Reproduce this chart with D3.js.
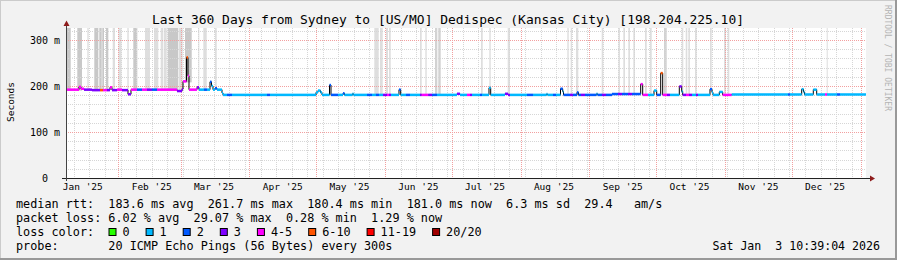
<!DOCTYPE html>
<html>
<head>
<meta charset="utf-8">
<script src="https://cdn.jsdelivr.net/npm/d3@7"></script>
<style>
body { margin: 0; background: #f2f2f2; }
svg { display: block; }
text { font-family: "DejaVu Sans Mono", monospace; white-space: pre; }
</style>
</head>
<body>
<svg id="chart" width="897" height="260"></svg>
<script>
// time window of the graph (UTC)
const startTime = "2025-01-08T10:39:04Z";
const endTime = "2026-01-03T10:39:04Z";
const dayZero = Date.UTC(2025, 0, 1);

// median rtt samples: [days since 2025-01-01, ms, loss class]
const median = [
  [7.45,192,4],[13.29,198,4],[14.19,194,4],[15.54,192,3],[19.14,191,3],[22.74,191,5],
  [24.09,191,4],[25.89,191,3],[27.24,197,4],[28.14,191,3],[30.39,192,4],[32.64,191,3],
  [35.34,182,3],[36.69,192,4],[39.39,192,2],[41.64,192,4],[43.89,192,3],[46.14,192,2],
  [48.39,192,4],[57.39,189,3],[59.64,193,3],[60.09,210,4],[61.67,262,5],[62.34,222,4],
  [62.79,192,4],[66.39,197,3],[67.29,192,1],[69.54,192,2],[70.89,192,1],[72.24,209,2],
  [72.92,200,1],[73.59,192,1],[74.49,195,2],[75.39,192,1],[77.64,185,1],[78.09,180.6,1],
  [79.89,180.6,2],[82.14,180.6,1],[97.89,180.6,2],[99.24,180.6,1],[119.94,186,1],[120.84,190,1],
  [121.97,186,1],[122.64,180.6,1],[126.02,202,2],[126.69,180.6,2],[129.84,180.6,1],[132.09,184,2],
  [132.77,180.6,1],[136.37,183,1],[136.82,180.6,1],[142.89,180.6,2],[145.14,180.6,1],[146.94,180.6,2],
  [148.29,180.6,1],[150.09,180.6,3],[151.89,180.6,4],[152.79,180.6,3],[153.69,180.6,1],[157.29,192,2],
  [158.06,180.6,1],[160.44,180.6,2],[162.24,180.6,1],[166.74,180.6,3],[167.51,180.6,4],[170.48,180.6,3],
  [172.14,180.6,2],[174.39,180.6,1],[183.39,183,3],[184.74,180.6,1],[187.89,180.6,4],[189.24,180.6,3],
  [190.14,180.6,1],[193.74,180.6,2],[194.64,180.6,1],[197.79,196,1],[198.56,180.6,1],[204.99,183,3],
  [206.34,180.6,3],[207.24,180.6,1],[214.89,180.6,2],[217.59,180.6,1],[223.67,182.5,1],[224.12,180.6,1],
  [226.59,180.6,2],[227.94,180.6,1],[229.97,194,2],[230.96,188,1],[231.32,180.6,2],[234.24,180.6,3],
  [235.59,180.6,2],[237.39,186,2],[238.07,180.6,2],[239.19,180.6,3],[240.99,180.6,2],[246.17,183,1],
  [246.62,180.6,2],[248.64,180.6,3],[250.44,180.6,2],[253.14,182.5,2],[255.84,182.5,3],[257.64,182.5,2],
  [260.34,182.5,3],[262.14,182.5,2],[266.06,204,4],[266.96,180.6,4],[269.34,180.6,1],[272.04,190,1],
  [273.26,180.6,2],[275.06,228,5],[275.96,180.6,4],[277.89,180.6,3],[279.24,180.6,1],[283.43,199,3],
  [284.51,188,1],[284.96,180.6,3],[286.44,180.6,4],[287.79,180.6,3],[289.14,180.6,1],[290.94,180.6,3],
  [291.84,180.6,1],[297.24,193,2],[298.14,186,1],[298.59,180.6,1],[301.43,187,1],[302.96,180.6,4],
  [307.01,181.5,1],[332.34,181.5,2],[333.24,181.5,1],[338.51,193,1],[339.32,187,1],[339.77,181.5,1],
  [343.73,192,1],[345.26,181.5,1],[348.99,181.5,4],[349.89,181.5,1],[354.39,181.5,2],[355.74,181.5,1],
  [367.44,181.5,1]
];

// smoke bars: [from day, to day, shade 0 light .. 2 dark]
const smoke = [
  [7.76,9.56,2],[12.53,14.64,2],[17.03,17.66,0],[20.18,21.98,2],[22.43,23.51,2],[23.78,24.54,2],
  [25.44,26.48,2],[28.46,29.49,0],[31.07,32.42,0],[35.03,35.66,0],[37.73,39.53,2],[43.0,45.24,0],
  [47.04,48.98,0],[50.06,51.23,0],[51.54,52.76,0],[53.21,57.98,2],[58.29,59.96,0],[61.0,64.01,2],
  [66.98,67.43,0],[69.23,70.76,0],[74.49,75.26,0],[146.18,148.16,0],[148.74,149.96,0],[151.44,152.34,0],
  [152.79,153.56,0],[166.74,167.51,0],[169.13,169.76,0],[173.49,174.53,1],[174.98,176.06,1],[194.19,194.96,0],
  [197.93,198.56,0],[206.21,207.24,0],[233.03,233.66,0],[234.56,235.14,0],[236.94,237.98,0],[248.51,249.23,0],
  [256.02,256.74,0],[258.23,259.0,0],[260.48,261.24,0],[262.73,263.49,0],[268.0,268.76,0],[270.24,271.01,0],
  [276.54,277.76,1],[284.51,285.23,0],[286.31,287.03,0],[287.48,288.24,0],[290.49,291.26,0],[297.24,298.01,0],
  [303.54,304.44,0],[305.21,305.93,0],[349.76,350.21,0]
];
const smokeColors = ["#dedede", "#d2d2d2", "#c8c8c8"];

const lossLabels = ["0", "1", "2", "3", "4-5", "6-10", "11-19", "20/20"];
const lossColors = ["#26ff00", "#00b8ff", "#0059ff", "#7e00ff", "#ff00ff", "#ff5500", "#ff0000", "#a10000"];

const yTicks = [0, 100, 200, 300];
const yTickLabels = ["0  ", "100 m", "200 m", "300 m"];
const xTickLabels = ["Jan '25", "Feb '25", "Mar '25", "Apr '25", "May '25", "Jun '25",
                     "Jul '25", "Aug '25", "Sep '25", "Oct '25", "Nov '25", "Dec '25"];

const title = "Last 360 Days from Sydney to [US/MO] Dedispec (Kansas City) [198.204.225.10]";
const statRows = [
  "median rtt:  183.6 ms avg  261.7 ms max  180.4 ms min  181.0 ms now  6.3 ms sd  29.4   am/s",
  "packet loss: 6.02 % avg  29.07 % max  0.28 % min  1.29 % now",
  "loss color:",
  "probe:       20 ICMP Echo Pings (56 Bytes) every 300s"
];
const stamp = "Sat Jan  3 10:39:04 2026";

var chartW = 897, chartH = 260;
var plotL = 66, plotR = 866, plotT = 28, plotB = 178;

var svg = d3.select("#chart");
var toDate = function(d) { return new Date(dayZero + d * 864e5); };

var x = d3.scaleUtc()
    .domain([new Date(startTime), new Date(endTime)])
    .range([plotL, plotR]);
var y = d3.scaleLinear()
    .domain([0, 326])
    .range([plotB, plotT]);

// background and shaded border
svg.append("rect").attr("width", chartW).attr("height", chartH).attr("fill", "#f2f2f2");
svg.append("rect").attr("x", 0).attr("y", 0).attr("width", chartW).attr("height", 1).attr("fill", "#cbcbcb");
svg.append("rect").attr("x", 0).attr("y", 0).attr("width", 1).attr("height", chartH).attr("fill", "#cbcbcb");
svg.append("rect").attr("x", 0).attr("y", chartH - 2).attr("width", chartW).attr("height", 2).attr("fill", "#999");
svg.append("rect").attr("x", chartW - 2).attr("y", 0).attr("width", 2).attr("height", chartH).attr("fill", "#999");

svg.append("rect").attr("x", plotL).attr("y", plotT).attr("width", plotR - plotL).attr("height", plotB - plotT).attr("fill", "#fff");

svg.append("clipPath").attr("id", "plot")
  .append("rect").attr("x", plotL).attr("y", plotT).attr("width", plotR - plotL).attr("height", plotB - plotT);
var plot = svg.append("g").attr("clip-path", "url(#plot)");

var samples = median.map(function(r) { return {t: toDate(r[0]), v: r[1], c: r[2]}; });
var bis = d3.bisector(function(d) { return d.t; }).right;
function medianAt(t) {
    var i = Math.max(0, bis(samples, t) - 1);
    return samples[i].v;
}

// smoke
plot.selectAll(".smoke")
  .data(smoke)
  .enter().append("rect")
  .attr("x", function(d) { return x(toDate(d[0])); })
  .attr("width", function(d) { return Math.max(1, x(toDate(d[1])) - x(toDate(d[0]))); })
  .attr("y", plotT)
  .attr("height", function(d) { return y(medianAt(toDate(d[0]))) + 1 - plotT; })
  .attr("fill", function(d) { return smokeColors[d[2]]; });

// grid
var weeks = d3.utcSunday.range(x.domain()[0], x.domain()[1]);
var months = d3.utcMonth.range(x.domain()[0], x.domain()[1]);
var minorY = d3.range(20, 326, 20).filter(function(v) { return v % 100 != 0; });
var majorY = yTicks.filter(function(v) { return v > 0; });
var minorColor = "#d6d6d6", majorColor = "#f2a0a0";

plot.selectAll(".vminor").data(weeks).enter().append("line")
  .attr("x1", function(d) { return Math.round(x(d)) + 0.5; })
  .attr("x2", function(d) { return Math.round(x(d)) + 0.5; })
  .attr("y1", plotT).attr("y2", plotB)
  .attr("stroke", minorColor).attr("stroke-dasharray", "1,1");
plot.selectAll(".hminor").data(minorY).enter().append("line")
  .attr("x1", plotL).attr("x2", plotR)
  .attr("y1", function(d) { return Math.round(y(d)) + 0.5; })
  .attr("y2", function(d) { return Math.round(y(d)) + 0.5; })
  .attr("stroke", minorColor).attr("stroke-dasharray", "1,1");
plot.selectAll(".vmajor").data(months).enter().append("line")
  .attr("x1", function(d) { return Math.round(x(d)) + 0.5; })
  .attr("x2", function(d) { return Math.round(x(d)) + 0.5; })
  .attr("y1", plotT).attr("y2", plotB)
  .attr("stroke", majorColor).attr("stroke-dasharray", "1,1");
plot.selectAll(".hmajor").data(majorY).enter().append("line")
  .attr("x1", plotL).attr("x2", plotR)
  .attr("y1", function(d) { return Math.round(y(d)) + 0.5; })
  .attr("y2", function(d) { return Math.round(y(d)) + 0.5; })
  .attr("stroke", majorColor).attr("stroke-dasharray", "1,1");

// median line (black steps) with loss coloured bands
var line = d3.line()
    .x(function(d) { return x(d.t); })
    .y(function(d) { return y(d.v); })
    .curve(d3.curveStepAfter);
plot.append("path").datum(samples)
  .attr("d", line).attr("fill", "none").attr("stroke", "#000").attr("stroke-width", 1);

plot.selectAll(".band")
  .data(samples.slice(0, -1))
  .enter().append("rect")
  .attr("x", function(d) { return x(d.t); })
  .attr("width", function(d, i) { return x(samples[i + 1].t) - x(d.t); })
  .attr("y", function(d) { return y(d.v) - 1.25; })
  .attr("height", 2.5)
  .attr("fill", function(d) { return lossColors[d.c]; });

// axes
svg.append("line").attr("x1", 62).attr("x2", 870).attr("y1", plotB + 0.5).attr("y2", plotB + 0.5)
  .attr("stroke", "#222");
svg.append("path").attr("d", "M870,175.5L875,178.5L870,181.5Z").attr("fill", "#8e1c1c");
svg.append("line").attr("x1", plotL + 0.5).attr("x2", plotL + 0.5).attr("y1", plotB + 3).attr("y2", 25)
  .attr("stroke", "#444");
svg.append("path").attr("d", "M63.5,26L66.5,20.5L69.5,26Z").attr("fill", "#8e1c1c");

// tick labels
svg.selectAll(".ylab").data(yTicks).enter().append("text")
  .attr("x", 60).attr("y", function(d) { return y(d) + 4; })
  .attr("text-anchor", "end").attr("font-size", "10px").attr("fill", "#000")
  .text(function(d, i) { return yTickLabels[i]; });

svg.selectAll(".xlab").data(xTickLabels).enter().append("text")
  .attr("x", function(d, i) { return x(d3.utcDay.offset(d3.utcMonth.offset(new Date(dayZero), i), 15)); })
  .attr("y", 190)
  .attr("text-anchor", "middle").attr("font-size", "9.5px").attr("fill", "#000")
  .text(function(d) { return d; });

// titles
svg.append("text").attr("x", 448).attr("y", 23.5).attr("text-anchor", "middle")
  .attr("font-size", "12.95px").attr("fill", "#000").text(title);
svg.append("text").attr("transform", "translate(14,102) rotate(-90)").attr("text-anchor", "middle")
  .attr("font-size", "9.5px").attr("fill", "#000").text("Seconds");
svg.append("text").attr("transform", "translate(885,5) rotate(90)")
  .attr("font-size", "8px").attr("fill", "#b4b4b4").text("RRDTOOL / TOBI OETIKER");

// legend
svg.selectAll(".stat").data(statRows).enter().append("text")
  .attr("x", 16).attr("y", function(d, i) { return 208 + i * 14; })
  .attr("font-size", "11.8px").attr("fill", "#000")
  .text(function(d) { return d; });

var charW = 7.1, bx = 108.5;
lossLabels.forEach(function(lab, i) {
    svg.append("rect").attr("x", bx + 0.5).attr("y", 228.5).attr("width", 7).attr("height", 7)
      .attr("fill", lossColors[i]).attr("stroke", "#000");
    svg.append("text").attr("x", bx + 14).attr("y", 236).attr("font-size", "11.8px").attr("fill", "#000").text(lab);
    bx += 30 + charW * lab.length;
});

svg.append("text").attr("x", 880).attr("y", 250).attr("text-anchor", "end")
  .attr("font-size", "11.6px").attr("fill", "#000").text(stamp);
</script>
</body>
</html>
